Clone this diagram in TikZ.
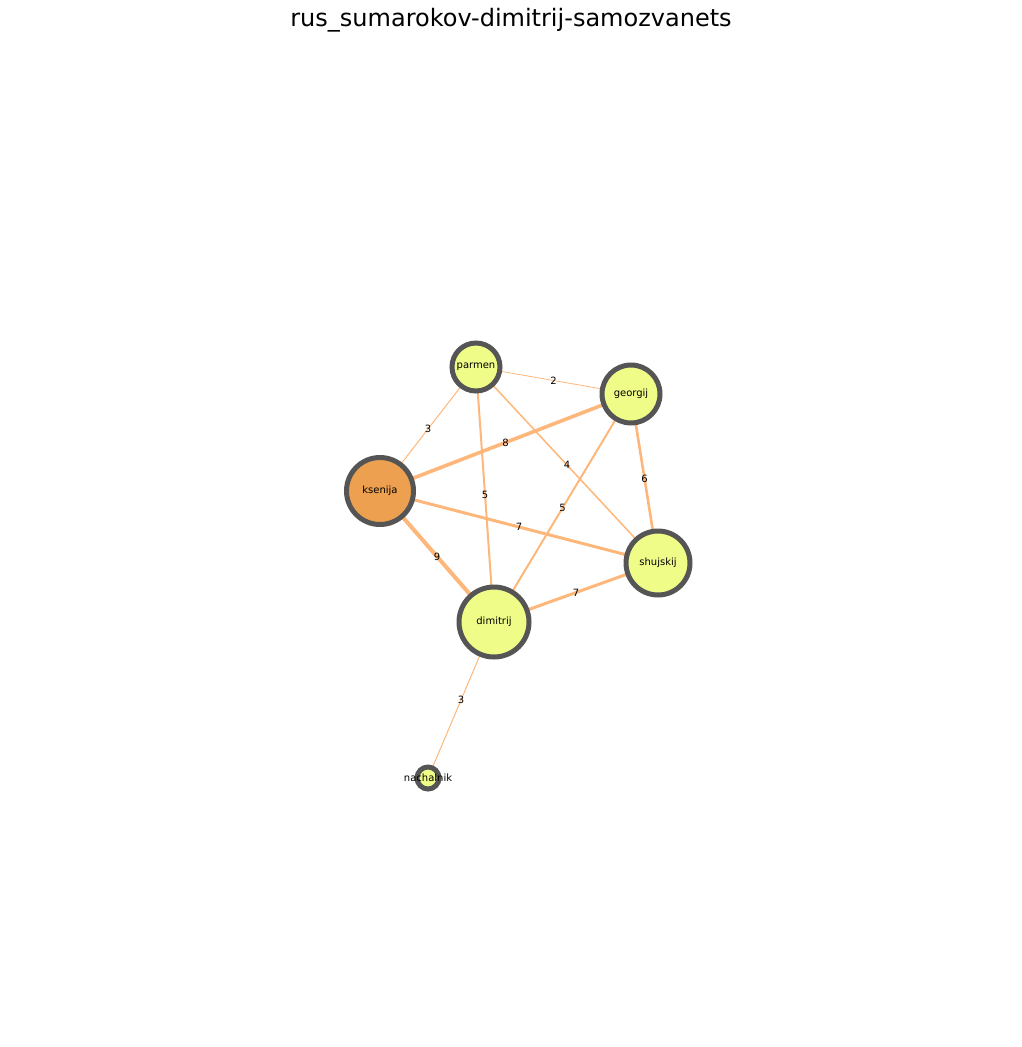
\documentclass[tikz,border=0pt]{standalone}
\usepackage{fontspec}
\setmainfont{DejaVu Sans}
\definecolor{nodey}{HTML}{F0FC88}
\definecolor{nodeo}{HTML}{EDA050}
\definecolor{bord}{HTML}{555555}
\definecolor{edgec}{HTML}{FDB77A}
\tikzset{
  person/.style={circle, draw=bord, line width=5pt, fill=nodey, inner sep=0pt, font=\fontsize{10}{12}\selectfont},
  rel/.style={draw=edgec, line width=#1},
  wlab/.style={font=\fontsize{10}{12}\selectfont, inner sep=0pt, midway}
}
\begin{document}
\begin{tikzpicture}[x=1pt,y=-1pt]
\useasboundingbox (0,0) rectangle (1022,1047);
\node[font=\fontsize{24}{28}\selectfont, anchor=base] (title) at (511,26) {rus\_sumarokov-dimitrij-samozvanets};
% node coordinates
\coordinate (pP) at (476,367);
\coordinate (pG) at (631,394);
\coordinate (pK) at (380,491);
\coordinate (pS) at (658,563);
\coordinate (pD) at (494,622);
\coordinate (pN) at (428,778);
% edges
\draw[rel=0.8pt] (pP) -- (pG) node[wlab] (l1) {2};
\draw[rel=1pt] (pP) -- (pK) node[wlab] (l2) {3};
\draw[rel=2pt] (pP) -- (pD) node[wlab] (l3) {5};
\draw[rel=1.5pt] (pP) -- (pS) node[wlab] (l4) {4};
\draw[rel=3.6pt] (pG) -- (pK) node[wlab] (l5) {8};
\draw[rel=2pt] (pG) -- (pD) node[wlab] (l6) {5};
\draw[rel=2.6pt] (pG) -- (pS) node[wlab] (l7) {6};
\draw[rel=3pt] (pK) -- (pS) node[wlab] (l8) {7};
\draw[rel=4pt] (pK) -- (pD) node[wlab] (l9) {9};
\draw[rel=3pt] (pS) -- (pD) node[wlab] (l10) {7};
\draw[rel=1pt] (pD) -- (pN) node[wlab] (l11) {3};
% nodes
\node[person, minimum size=48pt] (parmen) at (pP) {parmen};
\node[person, minimum size=58pt] (georgij) at (pG) {georgij};
\node[person, fill=nodeo, minimum size=67pt] (ksenija) at (pK) {ksenija};
\node[person, minimum size=64pt] (shujskij) at (pS) {shujskij};
\node[person, minimum size=70pt] (dimitrij) at (pD) {dimitrij};
\node[person, minimum size=22pt] (nachalnik) at (pN) {};
\node[font=\fontsize{10}{12}\selectfont, inner sep=0pt] (nachlab) at (pN) {nachalnik};
\end{tikzpicture}
\end{document}
